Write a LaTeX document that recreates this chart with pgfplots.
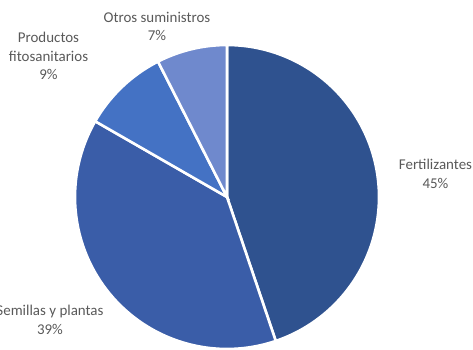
\documentclass[border=0pt]{standalone}
\usepackage{pgfplots}
\pgfplotsset{compat=1.18}
\usepackage{fontspec}
\setmainfont{Carlito}
\definecolor{cA}{HTML}{2F528F}
\definecolor{cB}{HTML}{3A5DA8}
\definecolor{cC}{HTML}{4472C4}
\definecolor{cD}{HTML}{6F89CD}
\definecolor{txt}{HTML}{595959}
% shares (percent)
\def\vA{44.8}\def\vB{38.5}\def\vC{9.2}\def\vD{7.5}
\pgfmathsetmacro\aA{90}
\pgfmathsetmacro\aB{\aA-3.6*\vA}
\pgfmathsetmacro\aC{\aB-3.6*\vB}
\pgfmathsetmacro\aD{\aC-3.6*\vC}
\pgfmathsetmacro\aE{\aD-3.6*\vD}
\def\cx{227}\def\cy{153}\def\R{152}
\begin{document}
\begin{tikzpicture}
\begin{axis}[at={(0,0)},anchor=south west,
  scale only axis, width=473bp, height=350bp,
  xmin=0,xmax=473,ymin=0,ymax=350, hide axis, clip=false]
\addplot[fill=cA, draw=white, line width=2.6bp, domain=\aB:\aA, samples=90, smooth]
  ({\cx+\R*cos(x)},{\cy+\R*sin(x)}) -- (axis cs:\cx,\cy) -- cycle;
\addplot[fill=cB, draw=white, line width=2.6bp, domain=\aC:\aB, samples=90, smooth]
  ({\cx+\R*cos(x)},{\cy+\R*sin(x)}) -- (axis cs:\cx,\cy) -- cycle;
\addplot[fill=cC, draw=white, line width=2.6bp, domain=\aD:\aC, samples=30, smooth]
  ({\cx+\R*cos(x)},{\cy+\R*sin(x)}) -- (axis cs:\cx,\cy) -- cycle;
\addplot[fill=cD, draw=white, line width=2.6bp, domain=\aE:\aD, samples=30, smooth]
  ({\cx+\R*cos(x)},{\cy+\R*sin(x)}) -- (axis cs:\cx,\cy) -- cycle;
\begin{scope}[every node/.style={align=center, text=txt, font=\fontsize{15}{18.5}\selectfont}]
\node at (axis cs:157,323.5) {Otros suministros\\7\%};
\node at (axis cs:48.5,294) {Productos\\fitosanitarios\\9\%};
\node at (axis cs:435.5,176) {Fertilizantes\\45\%};
\node at (axis cs:50,30) {Semillas y plantas\\39\%};
\end{scope}
\end{axis}
\pgfresetboundingbox
\path[use as bounding box] (0,0) rectangle (473bp,350bp);
\end{tikzpicture}
\end{document}
